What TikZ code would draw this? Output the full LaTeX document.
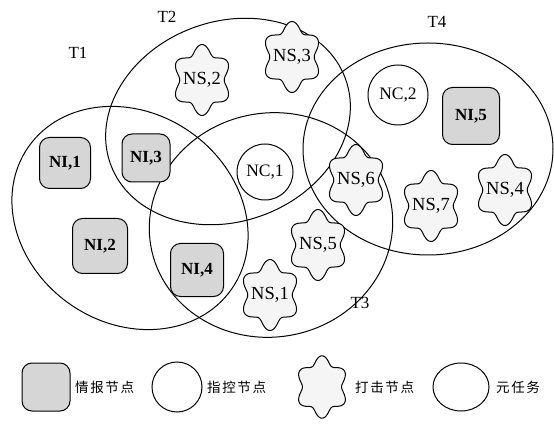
\documentclass[tikz,border=0pt]{standalone}
\usepackage{fontspec}
\setmainfont{Liberation Serif}
\newfontfamily\cjk[LetterSpace=12]{Noto Sans CJK SC}
\tikzset{
  x=1pt, y=1pt,
  task/.style={line width=1pt},
  ninode/.style={draw, line width=1pt, rounded corners=10pt, fill=gray!32, minimum width=#1, minimum height=#1, inner sep=0pt, font=\fontsize{17}{17}\selectfont\bfseries},
  ninode/.default=52pt,
  ncnode/.style={draw, circle, line width=1pt, minimum size=#1, inner sep=0pt, font=\fontsize{17.5}{17.5}\selectfont},
  ncnode/.default=56pt,
  nslabel/.style={inner sep=0pt, font=\fontsize{18.5}{18.5}\selectfont},
  nsshape/.style={draw, line width=1pt, fill=gray!8},
  tlabel/.style={inner sep=0pt, font=\fontsize{17}{17}\selectfont},
  legtext/.style={inner sep=0pt, anchor=west, font=\fontsize{13.5}{13.5}\selectfont\cjk},
}
\newcommand\NSnode[4]{%
  \path[nsshape, shift={(#2,#3)}] plot[variable=\t, domain=0:360, samples=121, smooth]
    ({26*cos(\t)*(1-0.145*cos(6*\t))}, {31*sin(\t)*(1-0.145*cos(6*\t))}) -- cycle;
  \node[nslabel] (#1) at (#2,#3) {#4};}
\begin{document}
\begin{tikzpicture}
\useasboundingbox (0,0) rectangle (554,426);
\fill[white] (0,0) rectangle (554,426);
% meta tasks
\draw[task, rotate around={-35:(130,208)}] (130,208) ellipse [x radius=124pt, y radius=105pt];
\draw[task, rotate around={20:(228,304.5)}] (228,304.5) ellipse [x radius=125pt, y radius=100pt];
\draw[task, rotate around={10:(271,201)}] (271,201) ellipse [x radius=122pt, y radius=112pt];
\draw[task] (428,277) ellipse [x radius=125pt, y radius=106pt];
\node[tlabel] (t1) at (78,373) {T1};
\node[tlabel] (t2) at (167,409) {T2};
\node[tlabel] (t3) at (360,123) {T3};
\node[tlabel] (t4) at (437,404) {T4};
% intelligence nodes
\node[ninode=51pt] (ni1) at (65,263) {NI,1};
\node[ninode=48pt] (ni3) at (146,268) {NI,3};
\node[ninode=55pt] (ni2) at (100,180) {NI,2};
\node[ninode=53pt] (ni4) at (197,156) {NI,4};
\node[ninode=57pt] (ni5) at (471,310) {NI,5};
% command nodes
\node[ncnode=56pt] (nc1) at (265,254) {NC,1};
\node[ncnode=60pt] (nc2) at (398,331) {NC,2};
% strike nodes
\NSnode{ns2}{202}{346}{NS,2}
\NSnode{ns3}{292}{369}{NS,3}
\NSnode{ns6}{356}{246}{NS,6}
\NSnode{ns7}{431}{220}{NS,7}
\NSnode{ns4}{505}{236}{NS,4}
\NSnode{ns5}{318}{181}{NS,5}
\NSnode{ns1}{270}{131}{NS,1}
% legend
\node[ninode=48pt] (lgni) at (46,39) {};
\node[legtext] (lgnitext) at (75,39) {情报节点};
\node[ncnode=50pt] (lgnc) at (177,39) {};
\node[legtext] (lgnctext) at (207,39) {指控节点};
\path[nsshape, shift={(322,39)}, scale=0.88] plot[variable=\t, domain=0:360, samples=121, smooth]
    ({26*cos(\t)*(1-0.145*cos(6*\t))}, {31*sin(\t)*(1-0.145*cos(6*\t))}) -- cycle;
\coordinate (lgns) at (322,39);
\node[legtext] (lgnstext) at (355,39) {打击节点};
\draw[task] (461,39) ellipse [x radius=28pt, y radius=24pt];
\coordinate (lgt) at (461,39);
\node[legtext] (lgttext) at (496,39) {元任务};
\end{tikzpicture}
\end{document}
